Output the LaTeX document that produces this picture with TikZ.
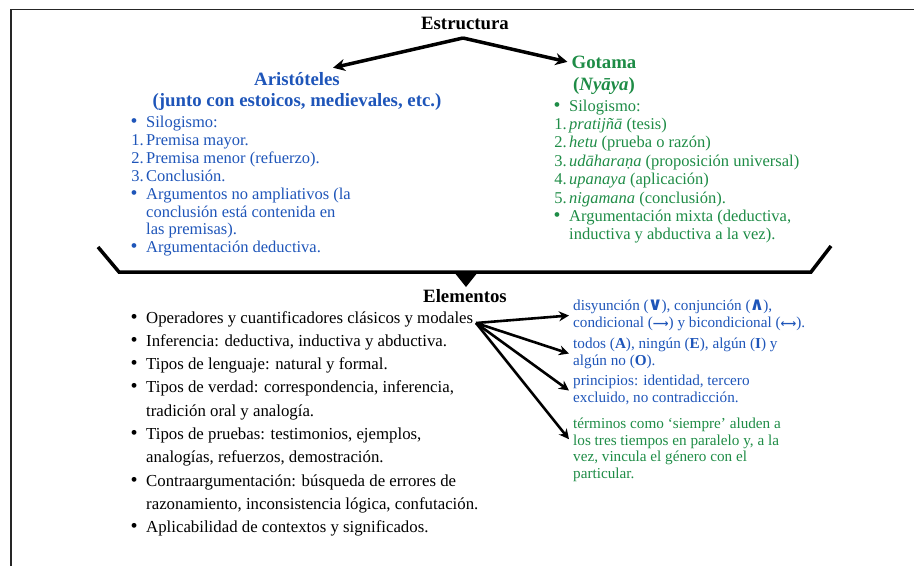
\documentclass[tikz,border=0pt]{standalone}
\usepackage{fontspec}
\setmainfont{Liberation Serif}
\newfontfamily\symf{DejaVu Sans}
\usetikzlibrary{arrows.meta}
\definecolor{tblue}{RGB}{30,85,185}
\definecolor{tgreen}{RGB}{30,140,70}
\newcommand\bl{\makebox[16pt][l]{\kern0.5pt\scalebox{1.2}{•}}}
\newcommand\nm[1]{\makebox[16pt][r]{#1\kern2.5pt}}
\newcommand\smarr[1]{{\symf\bfseries\fontsize{11}{11}\selectfont #1}}
\newcommand\bigop[1]{\kern-1pt\scalebox{1.3}{\symf\bfseries\fontsize{14}{14}\selectfont #1}\kern-1pt}
\begin{document}
\begin{tikzpicture}[x=1pt,y=-1pt,
  head/.style={font=\fontsize{18.8}{22}\selectfont\bfseries, inner sep=0, anchor=base},
  blk/.style={inner sep=0, anchor=base west},
  conn/.style={line width=3.5pt, -{Stealth[length=12pt,width=12pt]}},
  conn2/.style={line width=2.6pt, -{Stealth[length=10pt,width=10pt]}}]
\useasboundingbox (0,0) rectangle (914,566);
\draw[line width=1.6pt, black!85] (11,566) -- (11,9.5) -- (914,9.5);

\node[head] (estr) at (465,29) {Estructura};
\node[head, tblue] (arist) at (297,85) {Aristóteles};
\node[head, tblue] (arist2) at (297,106) {(junto con estoicos, medievales, etc.)};
\node[head, tgreen] (gota) at (604,68) {Gotama};
\node[head, tgreen] (nyaya) at (604,90) {(\textit{Nyāya})};

\node[blk, tblue, font=\fontsize{16.5}{17.9}\selectfont] (aristl) at (130,127.5) {\begin{tabular}[t]{@{}l@{}l@{}}
\bl & Silogismo:\\
\nm{1.} & Premisa mayor.\\
\nm{2.} & Premisa menor (refuerzo).\\
\nm{3.} & Conclusión.\\
\bl & Argumentos no ampliativos (la\\
 & conclusión está contenida en\\
 & las premisas).\\
\bl & Argumentación deductiva.
\end{tabular}};

\node[blk, tgreen, font=\fontsize{16.5}{18.4}\selectfont] (gotl) at (553,111) {\begin{tabular}[t]{@{}l@{}l@{}}
\bl & Silogismo:\\
\nm{1.} & \textit{pratijñā} (tesis)\\
\nm{2.} & \textit{hetu} (prueba o razón)\\
\nm{3.} & \textit{udāharaṇa} (proposición universal)\\
\nm{4.} & \textit{upanaya} (aplicación)\\
\nm{5.} & \textit{nigamana} (conclusión).\\
\bl & Argumentación mixta (deductiva,\\
 & inductiva y abductiva a la vez).
\end{tabular}};

\draw[line width=3.5pt] (98,247) -- (119,272) -- (811,272) -- (831,246);
\fill (454,272) -- (478,272) -- (466,287) -- cycle;

\node[head] (elem) at (465,302) {Elementos};

\node[blk, font=\fontsize{16.8}{23.33}\selectfont] (eleml) at (130,323) {\begin{tabular}[t]{@{}l@{}l@{}}
\bl & Operadores y cuantificadores clásicos y modales\\
\bl & Inferencia: deductiva, inductiva y abductiva.\\
\bl & Tipos de lenguaje: natural y formal.\\
\bl & Tipos de verdad: correspondencia, inferencia,\\
 & tradición oral y analogía.\\
\bl & Tipos de pruebas: testimonios, ejemplos,\\
 & analogías, refuerzos, demostración.\\
\bl & Contraargumentación: búsqueda de errores de\\
 & razonamiento, inconsistencia lógica, confutación.\\
\bl & Aplicabilidad de contextos y significados.
\end{tabular}};

\node[blk, tblue, font=\fontsize{15.2}{16.7}\selectfont] (g1) at (573,310.5) {\begin{tabular}[t]{@{}l@{}}
disyunción (\bigop{∨}), conjunción (\bigop{∧}),\\
condicional (\smarr{⟶}) y bicondicional (\smarr{⟷}).
\end{tabular}};
\node[blk, tblue, font=\fontsize{15.2}{16.7}\selectfont] (g2) at (573,348.5) {\begin{tabular}[t]{@{}l@{}}
todos (\textbf{A}), ningún (\textbf{E}), algún (\textbf{I}) y\\
algún no (\textbf{O}).
\end{tabular}};
\node[blk, tblue, font=\fontsize{15.2}{16.7}\selectfont] (g3) at (573,385.5) {\begin{tabular}[t]{@{}l@{}}
principios: identidad, tercero\\
excluido, no contradicción.
\end{tabular}};
\node[blk, tgreen, font=\fontsize{15.2}{16.7}\selectfont] (g4) at (573,428.5) {\begin{tabular}[t]{@{}l@{}}
términos como ‘siempre’ aluden a\\
los tres tiempos en paralelo y, a la\\
vez, vincula el género con el\\
particular.
\end{tabular}};

\coordinate (top) at (463,38);
\draw[conn] (top) -- ([xshift=-7pt,yshift=4pt]arist.north east);
\draw[conn] (top) -- ([xshift=-4pt]gota.west);

\coordinate (src) at (476,323);
\draw[conn2] (src) -- ([xshift=-4pt]g1.west);
\draw[conn2] (src) -- ([xshift=-4pt]g2.west);
\draw[conn2] (src) -- ([xshift=-4pt]g3.west);
\draw[conn2] (src) -- ([xshift=-4pt,yshift=11pt]g4.west);
\end{tikzpicture}
\end{document}
